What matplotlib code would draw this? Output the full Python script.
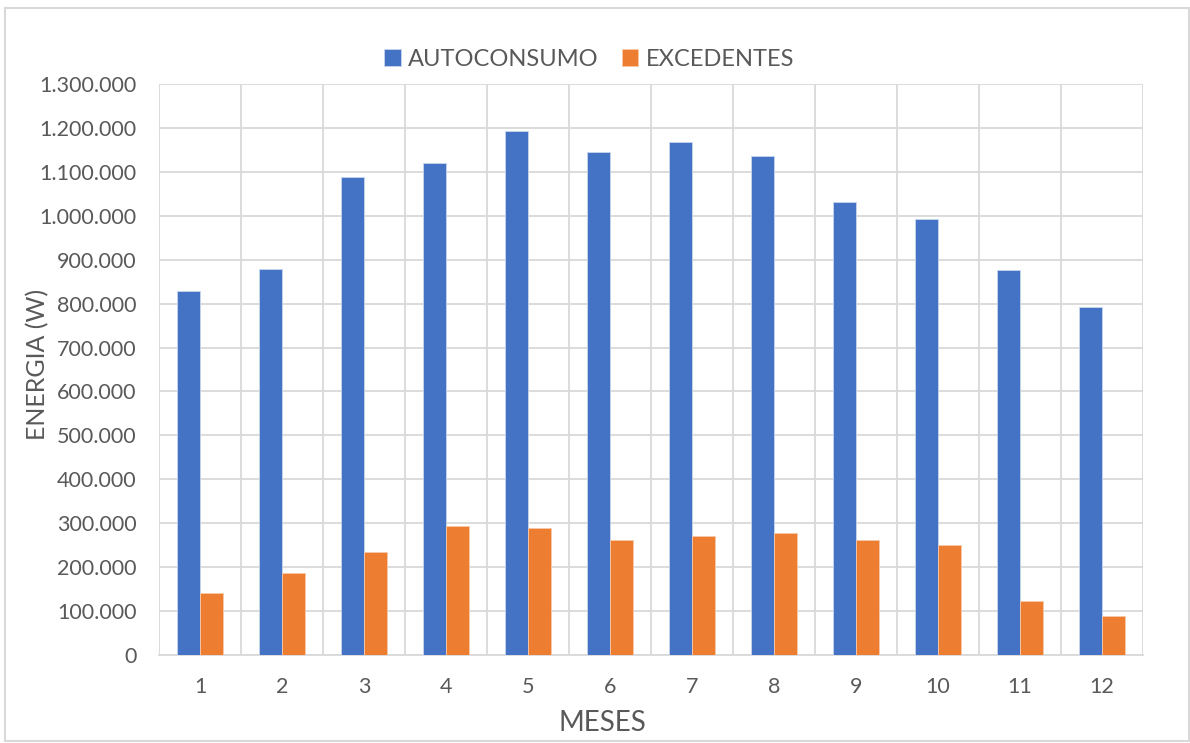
import matplotlib.pyplot as plt
from matplotlib.ticker import FuncFormatter, MultipleLocator
import numpy as np

# --- Data ---
meses = [1, 2, 3, 4, 5, 6, 7, 8, 9, 10, 11, 12]
autoconsumo = [829000, 879000, 1089000, 1120000, 1193000, 1146000,
               1168000, 1136000, 1031000, 992000, 877000, 792000]
excedentes = [141000, 187000, 234000, 293000, 289000, 262000,
              271000, 278000, 262000, 250000, 123000, 89000]

plt.rcParams['font.family'] = ['Lato', 'DejaVu Sans']
txt_color = '#595959'
grid_color = '#d9d9d9'

fig = plt.figure(figsize=(11.9, 7.43), dpi=100)
ax = fig.add_axes([0.1336, 0.1184, 0.8269, 0.7686])

x = np.array(meses)
w = 0.28
ax.bar(x - w / 2, autoconsumo, w, color='#4472C4', edgecolor='#c9d6ee', linewidth=0.6,
       label='AUTOCONSUMO', zorder=3)
ax.bar(x + w / 2, excedentes, w, color='#ED7D31', edgecolor='#f8c9a8', linewidth=0.6,
       label='EXCEDENTES', zorder=3)

ax.set_xlim(0.5, 12.5)
ax.set_ylim(0, 1300000)
ax.yaxis.set_major_locator(MultipleLocator(100000))
ax.yaxis.set_major_formatter(FuncFormatter(lambda v, p: f"{int(v):,}".replace(',', '.')))
ax.set_xticks(meses)
ax.set_xticks(np.arange(0.5, 13, 1), minor=True)

ax.grid(axis='y', which='major', color=grid_color, linewidth=1.3, zorder=0)
ax.grid(axis='x', which='minor', color=grid_color, linewidth=1.3, zorder=0)
ax.tick_params(axis='both', which='both', length=0, colors=txt_color, labelsize=15.5)
ax.tick_params(axis='x', pad=16)
ax.tick_params(axis='y', pad=16)

for side in ['top', 'right', 'left']:
    ax.spines[side].set_visible(False)
ax.spines['bottom'].set_color(grid_color)
ax.spines['bottom'].set_linewidth(1.3)

ax.set_xlabel('MESES', fontsize=20, color=txt_color)
ax.xaxis.set_label_coords(0.451, -0.096)
ax.set_ylabel('ENERGIA (W)', fontsize=18, color=txt_color)
ax.yaxis.set_label_coords(-0.111, 0.508)

ax.legend(loc='lower center', bbox_to_anchor=(0.437, 1.0), ncol=2, frameon=False,
          fontsize=17, labelcolor=txt_color, handlelength=0.7, handleheight=0.7,
          handletextpad=0.3, columnspacing=1.0, borderaxespad=0.2)

# outer chart border
fig.patches.append(plt.Rectangle((0.004, 0.003), 0.995, 0.986, transform=fig.transFigure,
                                 fill=False, edgecolor='#d9d9d9', linewidth=1.5))

fig.savefig('out.png', dpi=100)
